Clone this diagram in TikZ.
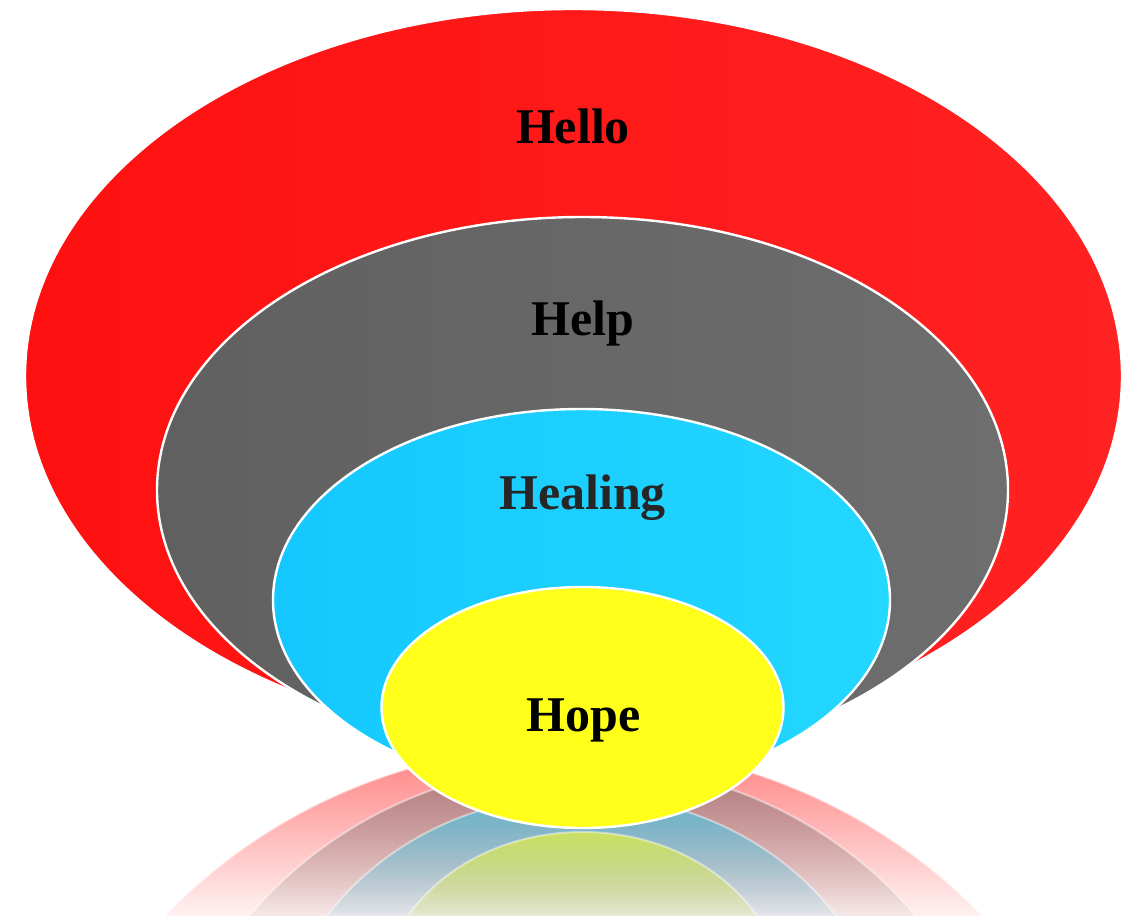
\documentclass[tikz,border=0pt]{standalone}
\usepackage{fontspec}
\setmainfont{Liberation Serif}
\usetikzlibrary{fadings}
\definecolor{cRedA}{HTML}{FF1010}
\definecolor{cRedB}{HTML}{FF2222}
\definecolor{cGrayA}{HTML}{606060}
\definecolor{cGrayB}{HTML}{6E6E6E}
\definecolor{cCyanA}{HTML}{14C8FF}
\definecolor{cCyanB}{HTML}{24D7FF}
\definecolor{cYel}{HTML}{FFFF1A}
\definecolor{cTxt}{HTML}{262626}
\tikzfading[name=reflfade, top color=transparent!42, bottom color=transparent!100]
\begin{document}
\begin{tikzpicture}[x=0.5pt,y=-0.5pt,
  ring/.style={draw=white, line width=1.2pt},
  reflline/.style={draw=white, line width=1pt, draw opacity=0.45},
  lbl/.style={anchor=base, font=\fontsize{25}{30}\selectfont\bfseries}]
\useasboundingbox (0,0) rectangle (1138,915);
\fill[white] (0,0) rectangle (1138,915);
% reflections (each fades from its own top to y=935)
\begin{scope}
  \clip (573.5,1258) ellipse [x radius=548.5, y radius=513];
  \fill[cRedB, path fading=reflfade] (0,745) rectangle (1138,935);
\end{scope}
\draw[reflline] (573.5,1258) ellipse [x radius=548.5, y radius=513];
\begin{scope}
  \clip (582.5,1166) ellipse [x radius=425.5, y radius=402];
  \fill[cGrayB, path fading=reflfade] (0,764) rectangle (1138,935);
\end{scope}
\draw[reflline] (582.5,1166) ellipse [x radius=425.5, y radius=402];
\begin{scope}
  \clip (581.5,1073) ellipse [x radius=308.5, y radius=278];
  \fill[cCyanB, path fading=reflfade] (0,795) rectangle (1138,935);
\end{scope}
\draw[reflline] (581.5,1073) ellipse [x radius=308.5, y radius=278];
\begin{scope}
  \clip (582.5,999) ellipse [x radius=201, y radius=167];
  \fill[cYel, path fading=reflfade] (0,832) rectangle (1138,935);
\end{scope}
\draw[reflline] (582.5,999) ellipse [x radius=201, y radius=167];
% main rings
\shadedraw[ring, left color=cRedA, right color=cRedB]   (573.5,376) ellipse [x radius=548.5, y radius=367];
\shadedraw[ring, left color=cGrayA, right color=cGrayB] (582.5,490) ellipse [x radius=425.5, y radius=273];
\shadedraw[ring, left color=cCyanA, right color=cCyanB] (581.5,600) ellipse [x radius=308.5, y radius=191];
\filldraw[ring, fill=cYel] (582.5,707.5) ellipse [x radius=201, y radius=120.5];
% labels
\node[lbl] (hello) at (573,143) {Hello};
\node[lbl] (help) at (583,335) {Help};
\node[lbl, text=cTxt] (healing) at (582.5,509) {Healing};
\node[lbl] (hope) at (583.5,731) {Hope};
\end{tikzpicture}
\end{document}
